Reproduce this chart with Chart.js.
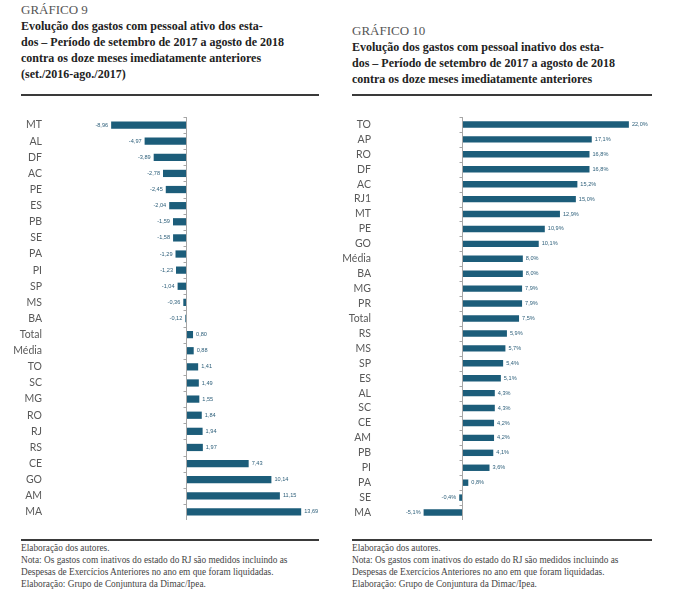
<!DOCTYPE html>
<html lang="pt-BR">
<head>
<meta charset="utf-8">
<title>Gráficos 9 e 10</title>
<script src="https://cdn.jsdelivr.net/npm/chart.js@4/dist/chart.umd.min.js"></script>
<style>
  body { margin: 0; background: #fff; width: 673px; height: 600px; position: relative; overflow: hidden; }
  .num { position: absolute; font: 13px "Liberation Serif", serif; color: #555; line-height: 16px; }
  .tit { position: absolute; font: bold 12px "Liberation Serif", serif; color: #222; line-height: 16px; white-space: nowrap; }
  .rule { position: absolute; height: 2px; background: #3a3a3a; }
  .nota { position: absolute; font: 9.3px "Liberation Serif", serif; color: #444; line-height: 12px; white-space: nowrap; }
  canvas { position: absolute; }
</style>
</head>
<body>
<div class="num" style="left:21px; top:2px;">GRÁFICO 9</div>
<div class="tit" style="left:21px; top:18px;">Evolução dos gastos com pessoal ativo dos esta-<br>dos – Período de setembro de 2017 a agosto de 2018<br>contra os doze meses imediatamente anteriores<br>(set./2016-ago./2017)</div>
<div class="rule" style="left:21px; top:94px; width:298px;"></div>

<div class="num" style="left:352px; top:23px;">GRÁFICO 10</div>
<div class="tit" style="left:352px; top:39px;">Evolução dos gastos com pessoal inativo dos esta-<br>dos – Período de setembro de 2017 a agosto de 2018<br>contra os doze meses imediatamente anteriores</div>
<div class="rule" style="left:352px; top:94px; width:300px;"></div>

<canvas id="graf9" width="324" height="403" style="left:10px; top:117px;"></canvas>
<canvas id="graf10" width="326" height="403" style="left:340px; top:117px;"></canvas>

<div class="rule" style="left:21px; top:539px; width:298px;"></div>
<div class="nota" style="left:21px; top:542px;">Elaboração dos autores.<br>Nota: Os gastos com inativos do estado do RJ são medidos incluindo as<br>Despesas de Exercícios Anteriores no ano em que foram liquidadas.<br>Elaboração: Grupo de Conjuntura da Dimac/Ipea.</div>

<div class="rule" style="left:352px; top:539px; width:300px;"></div>
<div class="nota" style="left:352px; top:542px;">Elaboração dos autores.<br>Nota: Os gastos com inativos do estado do RJ são medidos incluindo as<br>Despesas de Exercícios Anteriores no ano em que foram liquidadas.<br>Elaboração: Grupo de Conjuntura da Dimac/Ipea.</div>

<script>
// Gráfico 9 - pessoal ativo (%)
const estados9 = ['MT', 'AL', 'DF', 'AC', 'PE', 'ES', 'PB', 'SE', 'PA', 'PI', 'SP', 'MS', 'BA',
    'Total', 'Média', 'TO', 'SC', 'MG', 'RO', 'RJ', 'RS', 'CE', 'GO', 'AM', 'MA'];
const valores9 = [-8.96, -4.97, -3.89, -2.78, -2.45, -2.04, -1.59, -1.58, -1.29, -1.23, -1.04, -0.36, -0.12,
    0.80, 0.88, 1.41, 1.49, 1.55, 1.84, 1.94, 1.97, 7.43, 10.14, 11.15, 13.69];

// Gráfico 10 - pessoal inativo (%)
const estados10 = ['TO', 'AP', 'RO', 'DF', 'AC', 'RJ1', 'MT', 'PE', 'GO', 'Média', 'BA', 'MG', 'PR', 'Total',
    'RS', 'MS', 'SP', 'ES', 'AL', 'SC', 'CE', 'AM', 'PB', 'PI', 'PA', 'SE', 'MA'];
const valores10 = [22.0, 17.1, 16.8, 16.8, 15.2, 15.0, 12.9, 10.9, 10.1, 8.0, 8.0, 7.9, 7.9, 7.5,
    5.9, 5.7, 5.4, 5.1, 4.3, 4.3, 4.2, 4.2, 4.1, 3.6, 0.8, -0.4, -5.1];

const corBarra = '#1c5d7a';
const corEixo = '#a6a6a6';

// linha do zero com tracinhos entre as categorias
const eixoZero = {
    id: 'eixoZero',
    afterDatasetsDraw(chart) {
        const ctx = chart.ctx;
        const xs = chart.scales.x;
        const ys = chart.scales.y;
        const x0 = Math.round(xs.getPixelForValue(0)) + 0.5;
        const n = chart.data.labels.length;
        const passo = (ys.bottom - ys.top) / n;
        ctx.save();
        ctx.strokeStyle = corEixo;
        ctx.lineWidth = 1;
        ctx.beginPath();
        ctx.moveTo(x0, ys.top);
        ctx.lineTo(x0, ys.bottom + 1);
        for (let i = 0; i <= n; i++) {
            const y = Math.round(ys.top + i * passo) + 0.5;
            ctx.moveTo(x0 - 3, y);
            ctx.lineTo(x0, y);
        }
        ctx.stroke();
        ctx.restore();
    }
};

// rotulos de valor na ponta das barras
const rotulos = {
    id: 'rotulos',
    afterDatasetsDraw(chart, args, opts) {
        const ctx = chart.ctx;
        const meta = chart.getDatasetMeta(0);
        const dados = chart.data.datasets[0].data;
        ctx.save();
        ctx.font = '5.6px "Liberation Sans", sans-serif';
        ctx.fillStyle = '#2d5f7a';
        ctx.textBaseline = 'middle';
        meta.data.forEach((barra, i) => {
            const v = dados[i];
            const txt = v.toFixed(opts.casas).replace('.', ',') + opts.sufixo;
            if (v < 0) {
                ctx.textAlign = 'right';
                ctx.fillText(txt, barra.x - 3, barra.y);
            } else {
                ctx.textAlign = 'left';
                ctx.fillText(txt, barra.x + 3, barra.y);
            }
        });
        ctx.restore();
    }
};

function montaGrafico(id, labels, valores, xmin, xmax, largEixo, pct, casas, sufixo) {
    return new Chart(document.getElementById(id), {
        type: 'bar',
        data: {
            labels: labels,
            datasets: [{
                data: valores,
                backgroundColor: corBarra,
                borderWidth: 0,
                barPercentage: pct,
                categoryPercentage: 1
            }]
        },
        options: {
            indexAxis: 'y',
            responsive: false,
            animation: false,
            layout: { padding: 0 },
            plugins: {
                legend: { display: false },
                tooltip: { enabled: false },
                rotulos: { casas: casas, sufixo: sufixo }
            },
            scales: {
                x: {
                    min: xmin,
                    max: xmax,
                    grid: { display: false },
                    border: { display: false },
                    ticks: { display: false },
                    afterFit(scale) { scale.height = 0; }
                },
                y: {
                    grid: { display: false },
                    border: { display: false },
                    ticks: {
                        autoSkip: false,
                        padding: 4,
                        color: '#595959',
                        font: { family: 'Lato, sans-serif', size: 10.5 }
                    },
                    afterFit(scale) {
                        scale.width = largEixo;
                        scale.paddingTop = 0;
                        scale.paddingBottom = 0;
                    }
                }
            }
        },
        plugins: [eixoZero, rotulos]
    });
}

montaGrafico('graf9', estados9, valores9, -15.77, 17.6, 44, 0.45, 2, '');
montaGrafico('graf10', estados10, valores10, -10.46, 26.9, 43, 0.43, 1, '%');
</script>
</body>
</html>
